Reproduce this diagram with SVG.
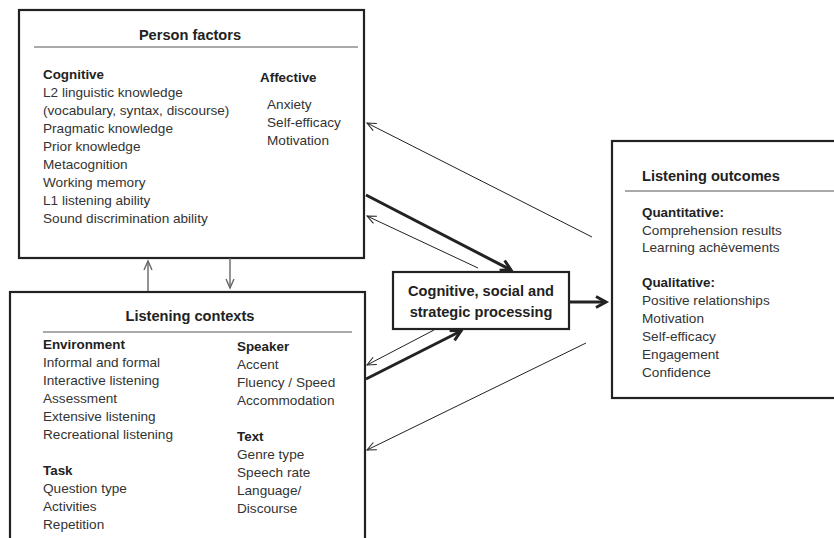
<svg xmlns="http://www.w3.org/2000/svg" width="834" height="538" viewBox="0 0 834 538">
<style>
.box{fill:#fff;stroke:#222;stroke-width:2.2}
.rule{stroke:#555;stroke-width:1}
.t{font-family:"Liberation Sans",Arial,sans-serif;font-size:13.6px;fill:#333}
.h{font-family:"Liberation Sans",Arial,sans-serif;font-size:13.4px;font-weight:bold;fill:#222}
.title{font-family:"Liberation Sans",Arial,sans-serif;font-size:14.6px;font-weight:bold;fill:#222;text-anchor:middle}
.thin{stroke:#222;stroke-width:1;fill:none;marker-end:url(#thinHead)}
.thick{stroke:#222;stroke-width:3;fill:none;marker-end:url(#thickHead)}
.gray{stroke:#666;stroke-width:1.4;fill:none;marker-end:url(#grayHead)}
</style>
<defs>
<marker id="thinHead" markerUnits="userSpaceOnUse" markerWidth="12" markerHeight="12" refX="9" refY="4" orient="auto" overflow="visible">
<path d="M0,0 L9,4 L0,8" fill="none" stroke="#222" stroke-width="1"/>
</marker>
<marker id="grayHead" markerUnits="userSpaceOnUse" markerWidth="12" markerHeight="12" refX="9" refY="4" orient="auto" overflow="visible">
<path d="M0,0 L9,4 L0,8" fill="none" stroke="#666" stroke-width="1.4"/>
</marker>
<marker id="thickHead" markerUnits="userSpaceOnUse" markerWidth="14" markerHeight="14" refX="10" refY="5.5" orient="auto" overflow="visible">
<path d="M0,0 L10,5.5 L0,11" fill="none" stroke="#222" stroke-width="3"/>
</marker>
</defs>

<g id="person-factors">
<rect class="box" x="19" y="10" width="345" height="248"/>
<text class="title" x="190" y="40">Person factors</text>
<line class="rule" x1="34" y1="47" x2="358" y2="47"/>
<text class="h" x="43" y="79">Cognitive</text>
<text class="t" x="43" y="97">L2 linguistic knowledge</text>
<text class="t" x="43" y="115">(vocabulary, syntax, discourse)</text>
<text class="t" x="43" y="133">Pragmatic knowledge</text>
<text class="t" x="43" y="151">Prior knowledge</text>
<text class="t" x="43" y="169">Metacognition</text>
<text class="t" x="43" y="187">Working memory</text>
<text class="t" x="43" y="205">L1 listening ability</text>
<text class="t" x="43" y="223">Sound discrimination ability</text>
<text class="h" x="260" y="82">Affective</text>
<text class="t" x="267" y="109">Anxiety</text>
<text class="t" x="267" y="127">Self-efficacy</text>
<text class="t" x="267" y="145">Motivation</text>
</g>

<g id="listening-contexts">
<rect class="box" x="10" y="292" width="355" height="260"/>
<text class="title" x="190" y="321">Listening contexts</text>
<line class="rule" x1="43" y1="332" x2="352" y2="332"/>
<text class="h" x="43" y="349">Environment</text>
<text class="t" x="43" y="367">Informal and formal</text>
<text class="t" x="43" y="385">Interactive listening</text>
<text class="t" x="43" y="403">Assessment</text>
<text class="t" x="43" y="421">Extensive listening</text>
<text class="t" x="43" y="439">Recreational listening</text>
<text class="h" x="43" y="475">Task</text>
<text class="t" x="43" y="493">Question type</text>
<text class="t" x="43" y="511">Activities</text>
<text class="t" x="43" y="529">Repetition</text>
<text class="h" x="237" y="351">Speaker</text>
<text class="t" x="237" y="369">Accent</text>
<text class="t" x="237" y="387">Fluency / Speed</text>
<text class="t" x="237" y="405">Accommodation</text>
<text class="h" x="237" y="441">Text</text>
<text class="t" x="237" y="459">Genre type</text>
<text class="t" x="237" y="477">Speech rate</text>
<text class="t" x="237" y="495">Language/</text>
<text class="t" x="237" y="513">Discourse</text>
</g>

<g id="processing">
<rect class="box" x="393" y="272" width="176" height="57"/>
<text class="title" x="481" y="296">Cognitive, social and</text>
<text class="title" x="481" y="317">strategic processing</text>
</g>

<g id="listening-outcomes">
<rect class="box" x="612" y="141" width="240" height="257"/>
<text class="h" x="642" y="181" style="font-size:14.6px">Listening outcomes</text>
<line class="rule" x1="625" y1="191" x2="834" y2="191"/>
<text class="h" x="642" y="217">Quantitative:</text>
<text class="t" x="642" y="235">Comprehension results</text>
<text class="t" x="642" y="252">Learning achèvements</text>
<text class="h" x="642" y="287">Qualitative:</text>
<text class="t" x="642" y="305">Positive relationships</text>
<text class="t" x="642" y="323">Motivation</text>
<text class="t" x="642" y="341">Self-efficacy</text>
<text class="t" x="642" y="359">Engagement</text>
<text class="t" x="642" y="377">Confidence</text>
</g>

<g id="connectors">
<path class="thin" d="M592,237 L367,123"/>
<path class="thick" d="M366,195 L511,270"/>
<path class="thin" d="M478,268 L367,216"/>
<path class="thin" d="M434,330 L367,365"/>
<path class="thick" d="M366,379 L461,331"/>
<path class="thin" d="M586,343 L367,450"/>
<path class="thick" d="M570,302 L606,302"/>
<path class="gray" d="M148,291 L148,261"/>
<path class="gray" d="M230,258 L230,288"/>
</g>
</svg>
